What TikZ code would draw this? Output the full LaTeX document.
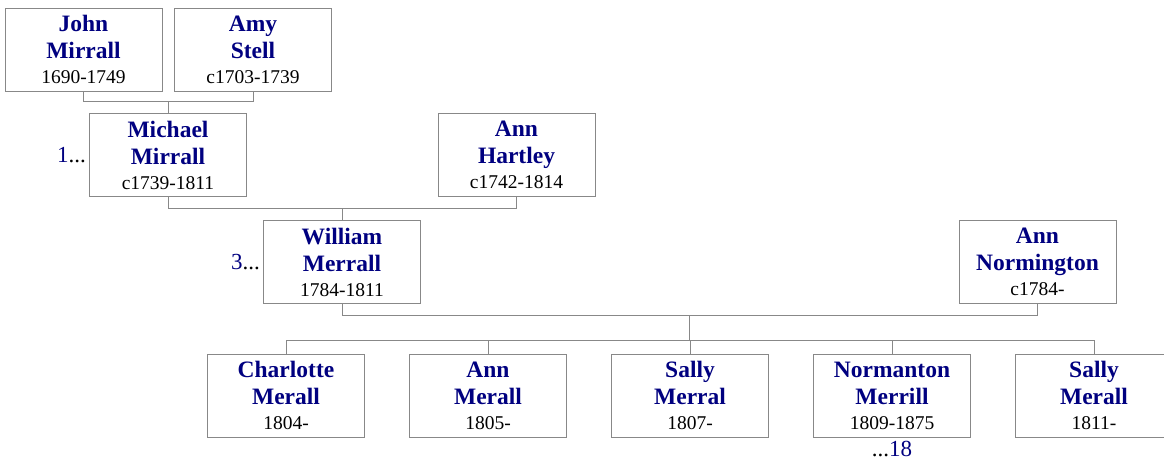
\documentclass[tikz,border=0pt]{standalone}
\usepackage{fontspec}
\setmainfont{Liberation Serif}
\usetikzlibrary{positioning,calc}
\usepackage{color}
\definecolor{namecol}{RGB}{0,0,128}
\definecolor{boxcol}{RGB}{136,136,136}
\newcommand{\person}[3]{\textbf{#1}\\\textbf{#2}\\[-2pt]{\fontsize{19.5}{25}\selectfont\color{black}#3}}

\begin{document}
\begin{tikzpicture}[
		x=1pt, y=-1pt,
		node distance=44pt and 44pt,
		line/.style={draw=boxcol, line width=1pt},
		pers/.style={draw=boxcol, line width=1pt, fill=white, minimum width=157pt, minimum height=83pt,
			inner sep=0pt, align=center, text=namecol, font=\fontsize{23.5}{27}\selectfont},
		more/.style={inner sep=3pt, font=\fontsize{23}{25}\selectfont}
	]
		\useasboundingbox (0,0) rectangle (1164,464);
		% grandparents
		\node[pers] (john) at (83.5,49.5) {\person{John}{Mirrall}{1690-1749}};
		\node[pers] (amy) at (253,49.5) {\person{Amy}{Stell}{c1703-1739}};
		% parents
		\node[pers] (michael) at (168,155) {\person{Michael}{Mirrall}{c1739-1811}};
		\node[pers] (hartley) at (516.5,155) {\person{Ann}{Hartley}{c1742-1814}};
		\node[pers] (william) at (342,262) {\person{William}{Merrall}{1784-1811}};
		\node[pers] (normington) at (1037.5,262) {\person{Ann}{Normington}{c1784-}};
		% children
		\node[pers] (charlotte) at (286,395.5) {\person{Charlotte}{Merall}{1804-}};
		\node[pers,right=of charlotte] (ann) {\person{Ann}{Merall}{1805-}};
		\node[pers,right=of ann] (sally) {\person{Sally}{Merral}{1807-}};
		\node[pers,right=of sally] (normanton) {\person{Normanton}{Merrill}{1809-1875}};
		\node[pers,right=of normanton] (sally2) {\person{Sally}{Merall}{1811-}};
		% links to other pages
		\node[more,anchor=east] (ref1) at (michael.west) {\textcolor{namecol}{1}...};
		\node[more,anchor=east] (ref3) at (william.west) {\textcolor{namecol}{3}...};
		\node[more,anchor=north] (ref18) at (normanton.south) {...\textcolor{namecol}{18}};
		% couples
		\draw[line] (john.south) -- ++(0,10) coordinate (c1) -| (amy.south);
		\draw[line] (michael.north) -- (michael.north |- c1);
		\draw[line] (michael.south) -- ++(0,11) coordinate (c2) -| (hartley.south);
		\draw[line] (william.north) -- (william.north |- c2);
		\draw[line] (william.south) -- ++(0,11) coordinate (c3) -| (normington.south);
		\path (charlotte.north) ++(0,-13) coordinate (kids);
		\coordinate (mid) at ($(c3)!0.5!(normington.south |- c3)$);
		\draw[line] (mid) -- (mid |- kids);
		\draw[line] (charlotte.north) |- (sally2.north |- kids) -- (sally2.north);
		\foreach \k in {ann,sally,normanton}
			\draw[line] (\k.north) -- (\k.north |- kids);
	\end{tikzpicture}
\end{document}
